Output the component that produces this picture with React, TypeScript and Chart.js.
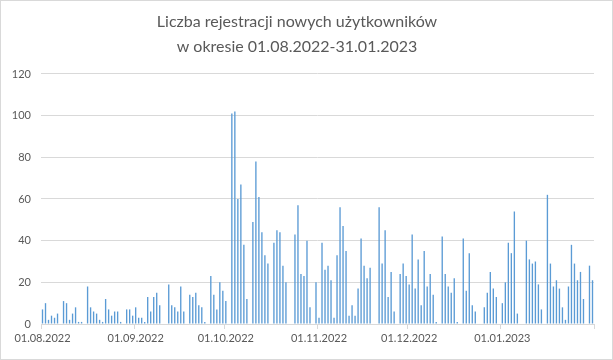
import React, { useEffect, useRef } from 'react';
import { Chart, registerables } from 'chart.js';

Chart.register(...registerables);

const TITLE = ['Liczba rejestracji nowych użytkowników', 'w okresie 01.08.2022-31.01.2023'];

// daily registrations per month
const AUG_2022 = [7, 10, 2, 4, 3, 5, 0, 11, 10, 2, 5, 8, 1, 1, 0, 18, 8, 6, 5, 2, 1, 12, 7, 4, 6, 6, 1, 0, 7, 7, 4];
const SEP_2022 = [8, 3, 3, 1, 13, 6, 13, 15, 9, 0, 0, 19, 9, 8, 6, 18, 6, 0, 14, 13, 15, 9, 8, 1, 0, 23, 14, 7, 20, 16];
const OCT_2022 = [11, 0, 101, 102, 60, 67, 38, 12, 0, 49, 78, 61, 44, 33, 29, 0, 39, 45, 44, 28, 20, 0, 0, 43, 57, 24, 23, 40, 8, 0, 20];
const NOV_2022 = [3, 39, 26, 28, 21, 3, 33, 56, 47, 35, 4, 9, 4, 17, 41, 28, 22, 27, 0, 0, 56, 29, 45, 13, 25, 6, 0, 24, 29, 23];
const DEC_2022 = [19, 43, 17, 31, 9, 35, 18, 24, 14, 1, 0, 42, 24, 18, 15, 22, 1, 0, 41, 16, 34, 9, 6, 0, 0, 8, 15, 25, 17, 13, 0];
const JAN_2023 = [10, 20, 39, 34, 54, 5, 0, 0, 40, 31, 29, 30, 19, 7, 0, 62, 29, 18, 21, 17, 8, 2, 18, 38, 29, 21, 25, 12, 0, 28, 21];

const MONTHS: { mm: string; yyyy: string; values: number[] }[] = [
  { mm: '08', yyyy: '2022', values: AUG_2022 },
  { mm: '09', yyyy: '2022', values: SEP_2022 },
  { mm: '10', yyyy: '2022', values: OCT_2022 },
  { mm: '11', yyyy: '2022', values: NOV_2022 },
  { mm: '12', yyyy: '2022', values: DEC_2022 },
  { mm: '01', yyyy: '2023', values: JAN_2023 },
];

const X_TICK_LABELS = ['01.08.2022', '01.09.2022', '01.10.2022', '01.11.2022', '01.12.2022', '01.01.2023'];
const Y_MIN = 0;
const Y_MAX = 120;
const Y_STEP = 20;

const LABELS: string[] = [];
const VALUES: number[] = [];
MONTHS.forEach((m) => {
  m.values.forEach((v, d) => {
    LABELS.push(`${String(d + 1).padStart(2, '0')}.${m.mm}.${m.yyyy}`);
    VALUES.push(v);
  });
});

const TEXT = '#595959';
const GRID = '#d9d9d9';
const FONT = 'Lato, "Open Sans", sans-serif';

const borderPlugin = {
  id: 'chartBorder',
  afterDraw(chart: any) {
    const ctx = chart.ctx;
    ctx.save();
    ctx.strokeStyle = GRID;
    ctx.lineWidth = 1;
    ctx.strokeRect(0.5, 0.5, chart.width - 1, chart.height - 1);
    ctx.restore();
  },
};

export default function App() {
  const ref = useRef<HTMLCanvasElement>(null);
  useEffect(() => {
    document.body.style.margin = '0';
    const chart = new Chart(ref.current as HTMLCanvasElement, {
      type: 'bar',
      data: {
        labels: LABELS,
        datasets: [
          {
            data: VALUES,
            backgroundColor: '#5B9BD5',
            barPercentage: 0.45,
            categoryPercentage: 1,
          },
        ],
      },
      options: {
        responsive: false,
        animation: false,
        layout: { padding: { left: 0, right: 19, top: 0, bottom: 0 } },
        plugins: {
          legend: { display: false },
          tooltip: { enabled: false },
          title: {
            display: true,
            text: TITLE,
            color: TEXT,
            font: { family: FONT, size: 16, weight: 'normal', lineHeight: 1.54 },
            padding: { top: 10, bottom: 14.7 },
          },
        },
        scales: {
          x: {
            grid: {
              offset: true,
              drawOnChartArea: false,
              drawTicks: true,
              tickLength: 5,
              color: (c: any) => {
                if (c.type !== 'tick') return GRID;
                return X_TICK_LABELS.includes(LABELS[c.index]) ? GRID : 'rgba(0,0,0,0)';
              },
            },
            border: { color: GRID },
            ticks: {
              autoSkip: false,
              maxRotation: 0,
              minRotation: 0,
              padding: 3,
              color: TEXT,
              font: { family: FONT, size: 11 },
              callback: (v: any, i: number) => (X_TICK_LABELS.includes(LABELS[i]) ? LABELS[i] : ''),
            },
            afterFit: (s: any) => {
              s.height = 36;
              s.paddingLeft = 0;
              s.paddingRight = 0;
            },
          },
          y: {
            min: Y_MIN,
            max: Y_MAX,
            ticks: { stepSize: Y_STEP, padding: 10, color: TEXT, font: { family: FONT, size: 11 } },
            grid: { color: GRID, drawTicks: false },
            border: { display: false },
            afterFit: (s: any) => {
              s.width = 41;
            },
          },
        },
      },
      plugins: [borderPlugin],
    } as any);
    return () => chart.destroy();
  }, []);
  return <canvas ref={ref} width={613} height={360} style={{ display: 'block' }} />;
}
